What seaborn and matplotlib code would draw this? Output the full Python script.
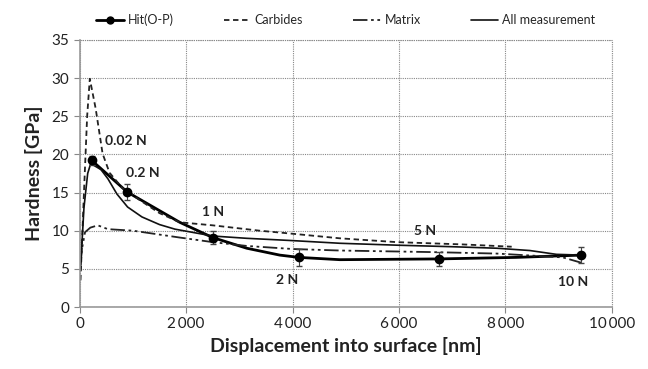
import numpy as np
import pandas as pd
import matplotlib
matplotlib.use("Agg")
import matplotlib.pyplot as plt
import seaborn as sns
from matplotlib.lines import Line2D

# Hit(O-P) curve and measured points
hit_x = [226, 550, 896, 1880, 2500, 3140, 3760, 4120, 4890, 6750, 8200, 9430]
hit_y = [19.2, 17.2, 15.05, 11.1, 9.1, 7.7, 6.8, 6.5, 6.2, 6.3, 6.5, 6.8]
hit_pts_x = [226, 896, 2500, 4120, 6750, 9430]
hit_pts_y = [19.2, 15.05, 9.1, 6.5, 6.3, 6.8]
hit_err = [0.6, 1.0, 0.8, 1.1, 0.9, 1.1]

carb_x = [15, 80, 140, 190, 300, 430, 560, 800, 1130, 1500, 1880, 2500, 3380, 4000, 4890, 5960, 7200, 8120]
carb_y = [3.5, 15.0, 25.0, 29.9, 26.0, 20.1, 17.6, 15.6, 14.0, 12.3, 11.1, 10.7, 10.0, 9.6, 9.0, 8.5, 8.2, 7.9]

matrix_x = [15, 40, 100, 200, 340, 530, 1000, 1880, 2500, 3140, 4000, 4890, 6580, 7840, 9080, 9430]
matrix_y = [5.5, 7.5, 9.8, 10.4, 10.7, 10.2, 10.0, 9.1, 8.5, 8.0, 7.6, 7.4, 7.2, 7.0, 6.5, 5.8]

all_x = [15, 80, 150, 207, 400, 530, 700, 900, 1170, 1500, 1790, 2500, 3140, 4000, 4890, 5960, 7000, 7840, 8460, 8960, 9430]
all_y = [5.0, 13.0, 17.5, 18.8, 18.0, 16.8, 14.8, 13.1, 11.8, 10.8, 10.2, 9.3, 9.0, 8.7, 8.35, 8.1, 7.9, 7.7, 7.4, 6.9, 6.8]

ann_text = ["0.02 N", "0.2 N", "1 N", "2 N", "5 N", "10 N"]
ann_x = [865, 1190, 2500, 3890, 6500, 9270]
ann_y = [21.8, 17.5, 12.4, 3.6, 9.9, 3.3]

x_ticks = [0, 2000, 4000, 6000, 8000, 10000]
x_tick_labels = ["0", "2\u2009000", "4\u2009000", "6\u2009000", "8\u2009000", "10\u2009000"]
y_ticks = [0, 5, 10, 15, 20, 25, 30, 35]

sns.set_style("white")
plt.rcParams["font.family"] = ["Lato", "DejaVu Sans"]

fig = plt.figure(figsize=(6.48, 3.69), dpi=100)
ax = fig.add_axes([0.123, 0.168, 0.821, 0.724])

sns.lineplot(x=hit_x, y=hit_y, ax=ax, color="black", lw=2.0, sort=False, label="_nolegend_")
sns.lineplot(x=carb_x, y=carb_y, ax=ax, color="#222222", lw=1.3, sort=False, label="Carbides")
sns.lineplot(x=matrix_x, y=matrix_y, ax=ax, color="#222222", lw=1.3, sort=False, label="Matrix")
sns.lineplot(x=all_x, y=all_y, ax=ax, color="#111111", lw=1.2, sort=False, label="All measurement")
ax.lines[1].set_linestyle((0, (3, 2)))
ax.lines[2].set_linestyle((0, (8, 2, 1.5, 2, 1.5, 2)))

ax.errorbar(hit_pts_x, hit_pts_y, yerr=hit_err, fmt="o", color="black", ms=6,
            ecolor="#444444", elinewidth=0.8, capsize=2, zorder=5)

handles = [Line2D([], [], color="black", lw=2, marker="o", ms=5),
           ax.lines[1], ax.lines[2], ax.lines[3]]
labels = ["Hit(O-P)", "Carbides", "Matrix", "All measurement"]
ax.legend(handles, labels, loc="lower center", bbox_to_anchor=(0.5, 1.01), ncol=4,
          frameon=False, fontsize=9, handlelength=2.2, columnspacing=4.0, handletextpad=0.3)

for t, x, y in zip(ann_text, ann_x, ann_y):
    ax.text(x, y, t, ha="center", va="center", fontsize=10, fontweight="bold", color="#222222")

ax.set_xlim(0, 10000)
ax.set_ylim(0, 35)
ax.set_xticks(x_ticks)
ax.set_xticklabels(x_tick_labels)
ax.set_yticks(y_ticks)
ax.tick_params(axis="both", labelsize=11, direction="out", length=4, width=0.8,
               bottom=True, left=True)
ax.tick_params(axis="x", colors="#888888", labelcolor="#222222")
ax.tick_params(axis="y", colors="#888888", labelcolor="#222222")
ax.grid(True, color="#888888", ls=(0, (1, 1)), lw=0.8)
ax.axvline(10000, color="#888888", ls=(0, (1, 1)), lw=0.8, clip_on=False)
ax.axhline(35, color="#888888", ls=(0, (1, 1)), lw=0.8, clip_on=False)
for s in ["top", "right"]:
    ax.spines[s].set_visible(False)
for s in ["left", "bottom"]:
    ax.spines[s].set_color("#999999")
    ax.spines[s].set_linewidth(1.2)

ax.set_xlabel("Displacement into surface [nm]", fontsize=14, fontweight="bold", color="#222222", labelpad=4)
ax.set_ylabel("Hardness [GPa]", fontsize=14, fontweight="bold", color="#222222", labelpad=6)

fig.savefig("out.png", dpi=100)
